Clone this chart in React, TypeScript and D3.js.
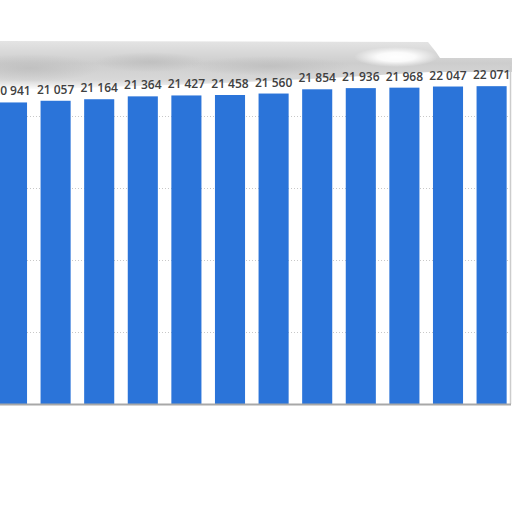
import { useEffect, useRef } from 'react';
import * as d3 from 'd3';

// values, left to right (first bar is cut by the left edge)
const categories = ['2008', '2009', '2010', '2011', '2012', '2013', '2014', '2015', '2016', '2017', '2018', '2019'];
const values = [20941, 21057, 21164, 21364, 21427, 21458, 21560, 21854, 21936, 21968, 22047, 22071];
const gridTicks = [5000, 10000, 15000, 20000];

export default function App() {
  const svgRef = useRef<SVGSVGElement>(null);

  useEffect(() => {
    if (!svgRef.current) return;
    const svg = d3.select(svgRef.current);
    svg.selectAll('*').remove();

    const W = 512;
    const H = 512;
    const top = 44;
    const bottom = 404;

    svg.attr('width', W).attr('height', H);
    svg.append('rect').attr('width', W).attr('height', H).attr('fill', '#ffffff');

    const x = d3
      .scaleBand<string>()
      .domain(categories)
      .range([-9.8, 513.4])
      .paddingInner(0.31)
      .paddingOuter(0.155);

    const y = d3.scaleLinear().domain([0, 25000]).range([bottom, top]);

    // dotted gridlines
    svg.append('g')
      .selectAll('line')
      .data(gridTicks)
      .enter().append('line')
      .attr('x1', 0)
      .attr('x2', 510)
      .attr('y1', d => Math.round(y(d)) + 0.5)
      .attr('y2', d => Math.round(y(d)) + 0.5)
      .attr('stroke', '#c8c8c8')
      .attr('stroke-width', 1)
      .attr('stroke-dasharray', '1,2');

    // grey smudge across the top: vertical gradient band plus a few soft blobs
    const defs = svg.append('defs');
    const grad = defs.append('linearGradient')
      .attr('id', 'smudgeGrad')
      .attr('x1', 0).attr('y1', 0).attr('x2', 0).attr('y2', 1);
    grad.append('stop').attr('offset', '0%').attr('stop-color', '#e4e4e4');
    grad.append('stop').attr('offset', '45%').attr('stop-color', '#cdcdcd');
    grad.append('stop').attr('offset', '80%').attr('stop-color', '#d8d8d8');
    grad.append('stop').attr('offset', '100%').attr('stop-color', '#ffffff');
    const blob = defs.append('radialGradient').attr('id', 'blob');
    blob.append('stop').attr('offset', '0%').attr('stop-color', '#bdbdbd').attr('stop-opacity', 0.8);
    blob.append('stop').attr('offset', '100%').attr('stop-color', '#bdbdbd').attr('stop-opacity', 0);
    const hole = defs.append('radialGradient').attr('id', 'hole');
    hole.append('stop').attr('offset', '0%').attr('stop-color', '#ffffff').attr('stop-opacity', 1);
    hole.append('stop').attr('offset', '45%').attr('stop-color', '#ffffff').attr('stop-opacity', 0.9);
    hole.append('stop').attr('offset', '100%').attr('stop-color', '#ffffff').attr('stop-opacity', 0);

    const sg = svg.append('g');
    sg.append('path')
      .attr('d', 'M0,41 L428,42 L436,52 L440,58 L512,58 L512,72 L430,72 L330,78 L200,84 L80,88 L0,90 Z')
      .attr('fill', 'url(#smudgeGrad)');
    sg.append('ellipse').attr('cx', 30).attr('cy', 68).attr('rx', 70).attr('ry', 14).attr('fill', 'url(#blob)');
    sg.append('ellipse').attr('cx', 150).attr('cy', 62).attr('rx', 55).attr('ry', 10).attr('fill', 'url(#blob)');
    sg.append('ellipse').attr('cx', 270).attr('cy', 66).attr('rx', 80).attr('ry', 10).attr('fill', 'url(#blob)');
    sg.append('ellipse').attr('cx', 396).attr('cy', 57).attr('rx', 42).attr('ry', 10).attr('fill', 'url(#hole)');

    // right border
    svg.append('line')
      .attr('x1', 510.5).attr('x2', 510.5)
      .attr('y1', 66).attr('y2', bottom)
      .attr('stroke', '#cccccc')
      .attr('stroke-width', 1.5);

    // bars
    svg.append('g')
      .selectAll('rect')
      .data(values)
      .enter().append('rect')
      .attr('x', (_, i) => x(categories[i]) as number)
      .attr('y', d => y(d))
      .attr('width', x.bandwidth())
      .attr('height', d => bottom - y(d))
      .attr('fill', '#2b74d9');

    // baseline
    svg.append('line')
      .attr('x1', 0).attr('x2', 511)
      .attr('y1', bottom + 0.5).attr('y2', bottom + 0.5)
      .attr('stroke', '#a8a8a8')
      .attr('stroke-width', 2);

    // value labels
    const fmt = (v: number) => d3.format(',')(v).replace(/,/g, ' ');
    svg.append('g')
      .selectAll('text')
      .data(values)
      .enter().append('text')
      .attr('x', (_, i) => (x(categories[i]) as number) + x.bandwidth() / 2)
      .attr('y', d => y(d) - 7)
      .attr('text-anchor', 'middle')
      .style('font-family', '"Open Sans", sans-serif')
      .style('font-size', '12px')
      .style('font-weight', 600)
      .style('fill', '#404040')
      .text(d => fmt(d));
  }, []);

  return <svg ref={svgRef} style={{ position: 'fixed', left: 0, top: 0 }}></svg>;
}
